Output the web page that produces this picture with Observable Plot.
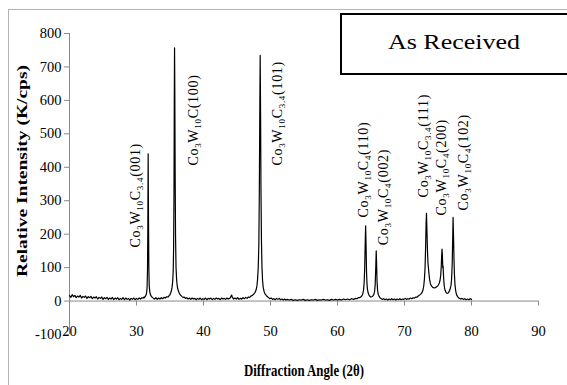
<!DOCTYPE html>
<html><head><meta charset="utf-8">
<script src="https://cdn.jsdelivr.net/npm/d3@7"></script>
<script src="https://cdn.jsdelivr.net/npm/@observablehq/plot@0.6"></script>
<style>
body{margin:0;background:#fff}
#chart svg, #chart svg text { font-family: "Liberation Serif", "Times New Roman", Times, serif !important; }
</style>
</head><body><div id="chart"></div>
<script>
// ---- data (angle 2θ, intensity K/cps) ----
const scanA = [[20.0,16],[20.2,11],[20.4,19],[20.6,13],[20.8,17],[21.0,10],[21.2,15],[21.4,12],[21.6,17],[21.8,9],[22.0,14],[22.2,11],[22.4,15],[22.6,8],[22.8,13],[23.0,10],[23.2,14],[23.4,7],[23.6,12],[23.8,9],[24.0,13],[24.2,6],[24.4,11],[24.6,8],[24.8,12],[25.0,5],[25.2,10],[25.4,7],[25.6,11],[25.8,5],[26.0,9],[26.2,6],[26.4,11],[26.6,4],[26.8,9],[27.0,6],[27.2,10],[27.4,4],[27.6,8],[27.8,5],[28.0,10],[28.2,4],[28.4,9],[28.6,5],[28.8,8],[29.0,3],[29.2,8],[29.4,5],[29.6,9],[29.8,4],[30.0,8],[30.2,5],[30.4,9],[30.6,6],[30.8,10],[31.0,9]];
const peak31 = [[31.1,12],[31.2,10],[31.3,14],[31.4,17],[31.5,24],[31.58,40],[31.64,90],[31.69,210],[31.74,440],[31.79,250],[31.84,105],[31.9,45],[32.0,25],[32.15,16],[32.35,11],[32.55,8]];
const scanB = [[32.7,6],[32.9,10],[33.1,5],[33.3,9],[33.5,6],[33.7,10],[33.9,7],[34.1,11],[34.3,9],[34.5,13],[34.7,12],[34.9,17]];
const peak35 = [[35.0,19],[35.1,24],[35.2,30],[35.3,40],[35.4,58],[35.48,90],[35.54,160],[35.6,340],[35.64,600],[35.68,757],[35.72,620],[35.77,380],[35.83,190],[35.9,100],[36.0,60],[36.1,42],[36.25,30],[36.4,23],[36.55,18],[36.75,14],[36.95,11]];
const scanC = [[37.1,12],[37.3,8],[37.5,10],[37.7,6],[37.9,9],[38.1,5],[38.3,9],[38.5,6],[38.7,8],[38.9,4],[39.1,8],[39.3,5],[39.5,9],[39.7,4],[39.9,7],[40.1,5],[40.3,9],[40.5,4],[40.7,8],[40.9,6],[41.1,9],[41.3,4],[41.5,8],[41.7,5],[41.9,9],[42.1,6],[42.3,8],[42.5,4],[42.7,9],[42.9,6],[43.1,8],[43.3,5],[43.5,9],[43.7,6],[43.9,8],[44.0,10],[44.1,14],[44.2,18],[44.3,12],[44.5,6],[44.7,9],[44.9,6],[45.1,10],[45.3,5],[45.5,8],[45.7,6],[45.9,10],[46.1,7],[46.3,11],[46.5,8],[46.7,12],[46.9,11]];
const peak48 = [[47.1,15],[47.3,17],[47.5,21],[47.7,26],[47.85,33],[47.97,45],[48.07,65],[48.17,100],[48.26,170],[48.33,320],[48.4,560],[48.46,735],[48.52,560],[48.58,330],[48.65,180],[48.73,100],[48.82,60],[48.92,40],[49.05,28],[49.2,21],[49.4,16],[49.6,12],[49.75,10]];
const scanD = [[49.9,7],[50.1,9],[50.3,5],[50.5,7],[50.7,4],[50.9,8],[51.1,5],[51.3,8],[51.5,4],[51.7,6],[51.9,3],[52.1,6],[52.3,3],[52.5,5],[52.8,3],[53.1,5],[53.4,2],[53.7,4],[54.0,2],[54.3,4],[54.6,3],[54.9,5],[55.2,2],[55.5,4],[55.8,2],[56.1,4],[56.4,3],[56.7,5],[57.0,2],[57.3,4],[57.6,3],[57.9,5],[58.2,3],[58.5,4],[58.8,2],[59.1,5],[59.4,3],[59.7,5],[60.0,3],[60.3,5],[60.6,3],[60.9,6],[61.2,4],[61.5,6],[61.8,4],[62.1,7],[62.4,5],[62.7,8],[62.9,7],[63.1,10]];
const peaks64 = [[63.3,10],[63.5,13],[63.65,16],[63.78,22],[63.88,32],[63.98,55],[64.06,100],[64.13,170],[64.2,225],[64.26,170],[64.33,90],[64.4,52],[64.48,34],[64.58,24],[64.7,18],[64.83,14],[64.98,12],[65.13,13],[65.28,15],[65.43,20],[65.53,28],[65.63,50],[65.71,100],[65.78,150],[65.84,110],[65.9,60],[65.98,32],[66.08,20],[66.23,13],[66.38,9],[66.55,7]];
const scanE = [[66.7,5],[66.9,7],[67.1,4],[67.3,6],[67.5,3],[67.7,6],[67.9,4],[68.1,7],[68.3,4],[68.5,6],[68.7,3],[68.9,6],[69.1,4],[69.3,7],[69.5,4],[69.7,6],[69.9,5],[70.1,8],[70.3,5],[70.5,7],[70.7,6],[70.9,9],[71.1,7],[71.3,10],[71.5,9],[71.7,12],[71.9,12],[72.05,15]];
const peaks73 = [[72.2,17],[72.4,20],[72.6,25],[72.75,32],[72.87,45],[72.97,65],[73.07,100],[73.15,160],[73.22,230],[73.28,262],[73.35,210],[73.43,150],[73.5,115],[73.57,100],[73.65,82],[73.75,64],[73.87,52],[74.0,46],[74.15,42],[74.3,40],[74.45,39],[74.6,40],[74.75,42],[74.9,44],[75.05,48],[75.2,54],[75.3,62],[75.4,76],[75.48,100],[75.54,132],[75.6,155],[75.66,135],[75.71,100],[75.76,105],[75.83,72],[75.93,45],[76.05,32],[76.2,26],[76.35,23],[76.5,24],[76.65,28],[76.8,35],[76.93,46],[77.03,65],[77.12,110],[77.19,180],[77.25,250],[77.31,200],[77.38,130],[77.45,80],[77.53,50],[77.63,32],[77.75,20],[77.9,14],[78.05,10]];
const scanF = [[78.2,8],[78.4,6],[78.6,8],[78.8,5],[79.0,7],[79.2,4],[79.4,6],[79.6,4],[79.8,7],[80.0,5]];

const xTicks = [20, 30, 40, 50, 60, 70, 80, 90];
const yTicks = [-100, 0, 100, 200, 300, 400, 500, 600, 700, 800];

const peakLabels = ["Co_3W_10C_3.4(001)", "Co_3W_10C(100)", "Co_3W_10C_3.4(101)", "Co_3W_10C_4(110)", "Co_3W_10C_4(002)", "Co_3W_10C_3.4(111)", "Co_3W_10C_4(200)", "Co_3W_10C_4(102)"];
const labelAngle = [29.85, 38.5, 51.0, 63.9, 66.9, 72.8, 75.5, 78.8];
const labelIntensity = [160, 405, 405, 250, 167, 310, 256, 271];

const xTitle = "Diffraction Angle (2θ)";
const yTitle = "Relative Intensity (K/cps)";
const boxLabel = "As Received";

// ---- build ----
const pattern = [...scanA, ...peak31, ...scanB, ...peak35, ...scanC, ...peak48, ...scanD, ...peaks64, ...scanE, ...peaks73, ...scanF]
  .map(([a, v]) => ({a, v}));
const labels = peakLabels.map((t, i) => ({t, a: labelAngle[i], v: labelIntensity[i]}));
const axisColor = "#8a8a8a";
const serif = "Liberation Serif";

const plot = Plot.plot({
  width: 567, height: 385,
  marginLeft: 69, marginRight: 29, marginTop: 33, marginBottom: 51,
  x: {domain: [20, 90], axis: null},
  y: {domain: [-100, 800], axis: null},
  style: {fontFamily: serif, background: "#fff", color: "#000"},
  marks: [
    Plot.ruleX([20], {y1: -100, y2: 800, stroke: axisColor}),
    Plot.ruleY([0], {x1: 20, x2: 90, stroke: axisColor}),
    Plot.ruleY(yTicks, {x1: 20, x2: 20, insetLeft: -5, stroke: axisColor}),
    Plot.ruleX(xTicks, {y1: 0, y2: 0, insetBottom: -5, stroke: axisColor}),
    Plot.text(yTicks, {x: 20, y: d => d, text: d => `${d}`, dx: -8, textAnchor: "end", fontSize: 14.5, fill: "#000"}),
    Plot.text(xTicks, {x: d => d, y: 0, text: d => `${d}`, dy: 30, fontSize: 14.5, fill: "#000"}),
    Plot.line(pattern, {x: "a", y: "v", stroke: "#000", strokeWidth: 1.2}),
    Plot.text(labels, {x: "a", y: "v", text: "t", rotate: -90, textAnchor: "start", lineAnchor: "middle", fontSize: 14, fill: "#000"}),
    Plot.text([yTitle], {frameAnchor: "left", dx: -47, dy: -13, rotate: -90, textAnchor: "middle", lineAnchor: "middle", fontWeight: "bold", fontSize: 15, fill: "#000"}),
    Plot.text([xTitle], {frameAnchor: "bottom", dy: 36, textAnchor: "middle", lineAnchor: "middle", fontWeight: "bold", fontSize: 17, fill: "#000"})
  ]
});

document.getElementById("chart").appendChild(plot);
const svg = d3.select(plot);

// subscripts in the peak labels
svg.selectAll("text").each(function () {
  const t = this.textContent;
  if (!t.includes("_")) return;
  const parts = t.split(/_([0-9.]+)/);
  const sel = d3.select(this);
  sel.text(null).attr("letter-spacing", 0.7);
  let shifted = false;
  parts.forEach((p, i) => {
    if (!p) return;
    const ts = sel.append("tspan").text(p);
    if (i % 2) { ts.attr("font-size", 9).attr("dy", 3); shifted = true; }
    else if (shifted) { ts.attr("dy", -3); shifted = false; }
  });
});
// axis titles stretched/condensed like the reference
svg.selectAll("text").each(function () {
  if (this.textContent === xTitle) d3.select(this).attr("textLength", 120).attr("lengthAdjust", "spacingAndGlyphs");
  if (this.textContent === yTitle) d3.select(this).attr("textLength", 212).attr("lengthAdjust", "spacingAndGlyphs");
});
// outer chart-area border and the title box
svg.append("rect").attr("x", 8.5).attr("y", 9.5).attr("width", 620).attr("height", 420)
  .attr("fill", "none").attr("stroke", "#b4b4b4");
svg.append("rect").attr("x", 341).attr("y", 14).attr("width", 260).attr("height", 60)
  .attr("fill", "#fff").attr("stroke", "#000").attr("stroke-width", 2);
svg.append("text").attr("x", 454).attr("y", 49).attr("text-anchor", "middle")
  .attr("font-size", 22).attr("fill", "#000")
  .attr("textLength", 132).attr("lengthAdjust", "spacingAndGlyphs").text(boxLabel);
</script>
</body></html>
